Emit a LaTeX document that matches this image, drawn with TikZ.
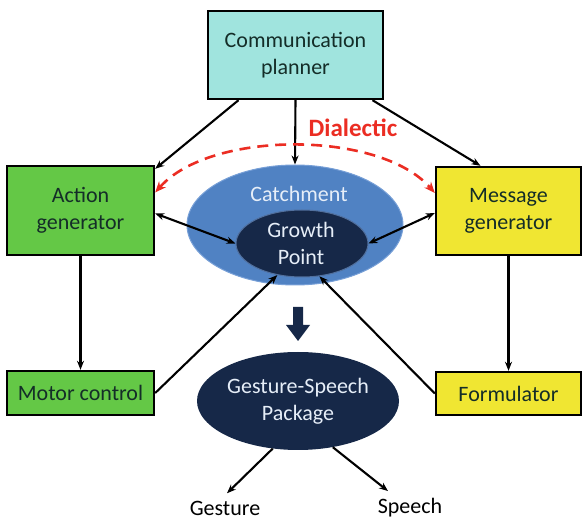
\documentclass[tikz,border=0pt]{standalone}
\usepackage{fontspec}
\setmainfont{Carlito}
\usetikzlibrary{arrows.meta,shapes.geometric}
\definecolor{planfill}{RGB}{160,228,222}
\definecolor{greenfill}{RGB}{100,200,70}
\definecolor{yellowfill}{RGB}{240,230,50}
\definecolor{catchfill}{RGB}{80,130,195}
\definecolor{catchedge}{RGB}{120,160,215}
\definecolor{navy}{RGB}{22,40,72}
\definecolor{dialred}{RGB}{235,45,35}
\definecolor{boxtext}{RGB}{20,45,40}
\definecolor{lighttext}{RGB}{230,238,248}
\tikzset{
  box/.style={draw=black,line width=2.4pt,inner sep=0pt,align=center,text=boxtext},
  conn/.style={line width=2.1pt,-{Stealth[length=9pt,width=7pt]}},
  biconn/.style={line width=2.1pt,{Stealth[length=9pt,width=7pt]}-{Stealth[length=9pt,width=7pt]}},
  lbl/.style={font=\fontsize{22}{27}\selectfont},
}
\begin{document}
\begin{tikzpicture}[x=1pt,y=-1pt]
\useasboundingbox (0,0) rectangle (584,526);
% boxes
\node[box,lbl,fill=planfill,minimum width=175pt,minimum height=88pt] (plan) at (295.5,55) {Communication\\planner};
\node[box,lbl,fill=greenfill,minimum width=147pt,minimum height=89pt] (act) at (80.5,210.5) {Action\\generator};
\node[box,lbl,fill=greenfill,minimum width=147pt,minimum height=44pt] (motor) at (80.5,393) {Motor control};
\node[box,lbl,fill=yellowfill,minimum width=145pt,minimum height=88pt] (msg) at (508.5,211) {Message\\generator};
\node[box,lbl,fill=yellowfill,minimum width=145pt,minimum height=43pt] (form) at (508.5,393.5) {Formulator};
% catchment and growth point
\node[ellipse,fill=catchfill,draw=catchedge,line width=1pt,minimum width=216pt,minimum height=120pt,inner sep=0pt] (catch) at (295,225) {};
\node[lbl,text=lighttext] (catchlbl) at (299,194) {Catchment};
\node[ellipse,fill=navy,draw=catchedge!60!navy,line width=1pt,minimum width=132pt,minimum height=67pt,inner sep=0pt] (gp) at (302,243.5) {};
\node[lbl,text=lighttext,align=center] (gplbl) at (301,243) {Growth\\Point};
% package
\node[ellipse,fill=navy,minimum width=202pt,minimum height=98pt,inner sep=0pt,lbl,text=lighttext,align=center] (pkg) at (298,401) {Gesture-Speech\\Package};
\node[lbl,text=black] (gesture) at (225,508) {Gesture};
\node[lbl,text=black] (speech) at (410,508) {Speech};
% big arrow
\fill[navy] (293,307) -- (303,307) -- (303,325) -- (310,325) -- (298,341) -- (286,325) -- (293,325) -- cycle;
% connectors
\draw[conn] ([xshift=-57pt]plan.south) -- ([yshift=-4pt]act.north east);
\draw[conn] (plan.south) -- (catch.north);
\draw[conn] ([xshift=77pt]plan.south) -- ([xshift=-28pt]msg.north);
\draw[biconn] ([yshift=-3pt]act.east) -- (gp.west);
\draw[biconn] ([yshift=-2pt]msg.west) -- (gp.east);
\draw[conn] (act.south) -- (motor.north);
\draw[conn] (msg.south) -- (form.north);
\draw[conn] (motor.east) -- (gp.-128);
\draw[conn] (form.west) -- (gp.-62);
\draw[conn] (pkg.-118) -- ([xshift=2pt,yshift=4pt]gesture.north);
\draw[conn] (pkg.-53) -- ([xshift=-22pt,yshift=4pt]speech.north);
% dialectic
\draw[dialred,line width=2.6pt,dash pattern=on 11pt off 7pt,{Stealth[length=11pt,width=9pt]}-{Stealth[length=11pt,width=9pt]}]
  ([yshift=18pt]act.east) .. controls (210,130) and (380,130) .. ([yshift=18pt]msg.west);
\node[font=\fontsize{25}{30}\selectfont\bfseries,text=dialred] (dial) at (353,128) {Dialectic};
\end{tikzpicture}
\end{document}
